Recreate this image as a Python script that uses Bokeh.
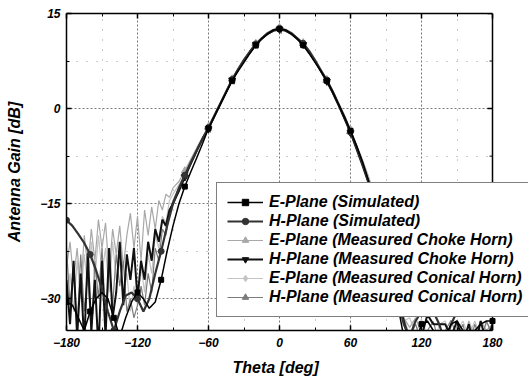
import math
from bokeh.plotting import figure
from bokeh.models import FixedTicker, LinearAxis, Range1d, Legend, LegendItem, Span, Title
from bokeh.embed import file_html
from bokeh.resources import INLINE

# ---------------- data ----------------
theta_sim = [-180, -175, -170, -165, -160, -155, -150, -145, -140, -135, -130, -125,
             -120, -115, -110, -105, -100, -95, -90, -85, -80, -75, -70, -65, -60,
             -55, -50, -45, -40, -35, -30, -25, -20, -15, -10, -5, 0, 5, 10, 15, 20,
             25, 30, 35, 40, 45, 50, 55, 60, 65, 70, 75, 80, 85, 90, 95, 100, 105,
             110, 115, 120, 125, 130, 135, 140, 145, 150, 155, 160, 165, 170, 175, 180]

e_sim = [-30.5, -31, -33, -35, -32, -30, -29, -30, -33, -36, -33, -30.5,
         -29, -30, -31.5, -30.5, -27, -22.5, -18.5, -15, -12.3, -10, -7.8, -5.5, -3.1,
         -1.2, 0.7, 2.6, 4.4, 5.9, 7.3, 8.7, 10.0, 11.0, 11.8, 12.4, 12.6, 12.4, 11.8, 11.0, 10.0,
         8.7, 7.3, 5.9, 4.4, 2.6, 0.6, -1.4, -3.5, -5.8, -8.3, -11.2, -14.5, -18, -22, -26.5, -31, -36,
         -40, -37, -34, -33.5, -35, -38, -36, -34, -33.5, -35, -37, -35, -34, -33.5, -33.5]

h_sim = [-17.6, -18.5, -19.8, -21.2, -23, -25.5, -28.5, -32, -35, -32, -29.5, -29,
         -30, -32, -30, -26, -22.5, -18.5, -15, -12.5, -10.5, -8.5, -6.6, -4.8, -3.0,
         -1.1, 0.8, 2.7, 4.6, 6.2, 7.7, 9.0, 10.2, 11.1, 11.9, 12.4, 12.6, 12.4, 11.9, 11.1, 10.3,
         9.1, 7.6, 6.0, 4.5, 2.7, 0.7, -1.3, -3.6, -6.0, -8.6, -11.4, -14.5, -18, -22, -26, -30, -34,
         -36, -33.5, -32, -31, -32, -34, -37, -34, -32, -30, -29, -28.5, -28, -27.5, -27.5]

theta_meas = [-180, -177, -174, -171, -168, -165, -162, -159, -156, -153, -150, -147,
              -144, -141, -138, -135, -132, -129, -126, -123, -120, -117, -114, -111,
              -108, -105, -102, -99, -96, -93, -90,
              -85, -80, -75, -70, -65, -60, -55, -50, -45, -40, -35, -30, -25, -20, -15,
              -10, -5, 0, 5, 10, 15, 20, 25, 30, 35, 40, 45, 50, 55, 60, 65, 70, 75, 80, 85,
              90, 95, 100, 105, 110, 115, 120, 125, 130, 135, 140, 145, 150, 155, 160, 165,
              170, 175, 180]

e_choke = [-25, -21, -27, -22, -29, -20, -25, -19, -24, -17.5, -22, -18,
           -26, -19, -23, -18.5, -25, -20, -16.5, -22, -17, -24, -16, -20,
           -15.5, -19, -14.5, -16, -13.5, -14, -12.5,
           -11.5, -9.8, -8.0, -6.2, -4.5, -2.8, -1.0, 0.9, 2.8, 4.7, 6.3, 7.8, 9.1, 10.3, 11.2,
           12.0, 12.5, 12.8, 12.5, 12.0, 11.2, 10.4, 9.2, 7.8, 6.2, 4.6, 2.8, 0.8, -1.2, -3.3,
           -5.6, -8.0, -10.6, -13.5, -16.8,
           -20.5, -24.5, -29, -33, -34.5, -33, -35.5, -38, -36, -38, -37, -39, -34, -38,
           -33.5, -36, -33.5, -35, -34]

h_choke = [-27, -34, -24, -36, -26, -37, -23, -35, -27, -38, -24, -36,
           -22, -33, -29, -21, -31, -23, -27, -22, -30, -24, -27, -21,
           -24, -19, -21, -17.5, -18.5, -16, -15,
           -13, -10.8, -8.7, -6.7, -4.7, -3.2, -1.2, 0.7, 2.6, 4.5, 6.1, 7.6, 8.9, 10.1, 11.0,
           11.8, 12.3, 12.5, 12.3, 11.8, 11.0, 10.1, 8.9, 7.5, 5.9, 4.3, 2.5, 0.5, -1.6, -3.8,
           -6.3, -8.9, -11.6, -14.6, -18.2,
           -22, -26, -30, -33.5, -37, -38, -36, -32.5, -34, -34, -34, -36, -33.5, -37,
           -34, -38, -33.5, -37, -34]

e_conical = [-30, -26, -32, -24, -30, -23, -28, -21, -27, -20, -26, -22,
             -29, -21, -27, -24, -30, -26, -32, -28, -31, -25, -29, -23,
             -26, -20, -22, -17, -18, -14.5, -13.5,
             -12, -10.2, -8.3, -6.4, -4.6, -3.0, -1.1, 0.8, 2.7, 4.6, 6.2, 7.7, 9.0, 10.2, 11.2,
             11.9, 12.4, 12.7, 12.4, 11.9, 11.2, 10.3, 9.0, 7.6, 6.1, 4.5, 2.7, 0.7, -1.4, -3.5,
             -5.9, -8.4, -11.0, -14.0, -17.3,
             -21, -25.5, -30, -33.5, -33, -35.5, -33.2, -36, -38, -34, -33.5, -37, -35, -33.5,
             -36, -33.5, -36, -33.8, -35]

h_conical = [-22, -31, -25, -35, -23, -32, -26, -36, -24, -30, -22, -33,
             -25, -31, -23, -28, -24, -32, -30, -33, -31, -28, -31, -26,
             -29, -22, -24, -19, -20, -16.5, -14.5,
             -12.5, -10.5, -8.6, -6.6, -4.8, -3.2, -1.3, 0.6, 2.5, 4.4, 6.0, 7.5, 8.8, 10.0, 11.0,
             11.7, 12.2, 12.4, 12.2, 11.7, 10.9, 10.0, 8.8, 7.4, 5.8, 4.2, 2.4, 0.4, -1.7, -3.9,
             -6.2, -8.8, -11.5, -14.4, -17.8,
             -21.5, -25.5, -29.5, -33, -36, -34, -37, -35, -33.6, -37, -35, -33.4, -36, -34,
             -38, -34, -36.5, -33.5, -36]

x_ticks = [-180, -120, -60, 0, 60, 120, 180]
x_minor = [-150, -90, -30, 30, 90, 150]
y_ticks = [-30, -15, 0, 15]
y_minor = [-22.5, -7.5, 7.5]

labels = ["E-Plane (Simulated)", "H-Plane (Simulated)",
          "E-Plane (Measured Choke Horn)", "H-Plane (Measured Choke Horn)",
          "E-Plane (Measured Conical Horn)", "H-Plane (Measured Conical Horn)"]

FONT = "Liberation Sans"
X0, X1 = x_ticks[0], x_ticks[-1]
# plot box is 426 px for 360 deg; canvas keeps 36 extra px on the right for the legend
X_EXTRA = 36 * (X1 - X0) / 426.0

p = figure(width=530, height=387, output_backend="svg", toolbar_location=None,
           x_range=Range1d(X0, X1 + X_EXTRA), y_range=Range1d(-35, 15),
           min_border_left=66, min_border_right=2, min_border_top=13, min_border_bottom=57)
p.background_fill_color = "white"
p.border_fill_color = "white"
p.outline_line_color = None

xt = FixedTicker(ticks=x_ticks, minor_ticks=x_minor)
yt = FixedTicker(ticks=y_ticks, minor_ticks=y_minor)
p.xaxis.ticker = xt
p.yaxis.ticker = yt
p.xgrid.ticker = xt
p.ygrid.ticker = yt

for g in (p.xgrid, p.ygrid):
    g.grid_line_color = "#777777"
    g.grid_line_dash = "2 2"
    g.grid_line_width = 1
    g.minor_grid_line_color = "#999999"
    g.minor_grid_line_dash = "1 9"
p.ygrid.cross_bounds = (X0, X1)

def style_axis(ax, show_labels=True):
    ax.major_tick_in = 5
    ax.major_tick_out = 0
    ax.minor_tick_in = 3
    ax.minor_tick_out = 0
    ax.axis_line_color = "black"
    ax.axis_line_width = 1.5
    ax.major_tick_line_width = 1.5
    ax.major_label_text_font = FONT
    ax.major_label_text_font_style = "bold italic"
    ax.major_label_text_font_size = "12px"
    ax.major_label_text_color = "black"
    ax.axis_label_text_font = FONT
    ax.axis_label_text_font_style = "bold italic"
    ax.axis_label_text_font_size = "16px"
    ax.axis_label_text_color = "black"
    if not show_labels:
        ax.major_label_text_font_size = "0px"
        ax.major_label_text_alpha = 0

for ax in p.xaxis:
    style_axis(ax)
    ax.major_label_standoff = 7
    ax.bounds = (X0, X1)
for ax in p.yaxis:
    style_axis(ax)
    ax.axis_label = "Antenna Gain [dB]"
    ax.major_label_standoff = 6
    ax.axis_label_standoff = 14

xlabel = Title(text="Theta [deg]", align="left", offset=166, standoff=15,
               text_font=FONT, text_font_style="bold italic", text_font_size="16px",
               text_color="black")
p.add_layout(xlabel, "below")

top = LinearAxis(ticker=xt, bounds=(X0, X1))
style_axis(top, False)
p.add_layout(top, "above")

# right border of the plot box with inward ticks
p.add_layout(Span(location=X1, dimension="height", line_color="black", line_width=1.5))
p.ray(x=[X1] * len(y_ticks), y=y_ticks, length=5, length_units="screen", angle=math.pi,
      line_color="black", line_width=1.5)
p.ray(x=[X1] * len(y_minor), y=y_minor, length=3, length_units="screen", angle=math.pi,
      line_color="black", line_width=1)

def marker_subset(th, vals, lo, hi):
    xs, ys = [], []
    for t, v in zip(th, vals):
        if t % 20 == 0 and lo <= t <= hi:
            xs.append(t)
            ys.append(v)
    return xs, ys

series = [
    # label idx, theta, values, color, width, dash, marker, size, angle, marker range
    (4, theta_meas, e_conical, "#c4c4c4", 1.2, "solid", "diamond", 8, 0, (-80, 80)),
    (2, theta_meas, e_choke, "#a8a8a8", 1.2, "solid", "triangle", 7, 0, (-80, 80)),
    (5, theta_meas, h_conical, "#7c7c7c", 1.2, "solid", "triangle", 7, math.pi / 2, (-80, 80)),
    (3, theta_meas, h_choke, "#111111", 2.0, "solid", "inverted_triangle", 7, 0, (-80, 80)),
    (1, theta_sim, h_sim, "#333333", 2.2, "solid", "circle", 6, 0, (-180, 180)),
    (0, theta_sim, e_sim, "#000000", 1.5, "solid", "square", 5, 0, (-180, 180)),
]

items = {}
for idx, th, vals, col, w, dash, mk, sz, ang, (lo, hi) in series:
    r1 = p.line(th, vals, line_color=col, line_width=w, line_dash=dash)
    mx, my = marker_subset(th, vals, lo, hi)
    r2 = p.scatter(mx, my, marker=mk, size=sz, angle=ang, fill_color=col,
                   line_color=col, line_width=1)
    items[idx] = [r1, r2]

legend = Legend(items=[LegendItem(label=labels[i], renderers=items[i]) for i in range(6)],
                location=(150, 13))
legend.label_text_font = FONT
legend.label_text_font_style = "bold italic"
legend.label_text_font_size = "16px"
legend.label_text_color = "black"
legend.glyph_width = 36
legend.glyph_height = 16
legend.label_height = 16
legend.label_standoff = 6
legend.spacing = 1
legend.padding = 10
legend.margin = 0
legend.border_line_color = "black"
legend.border_line_width = 1
legend.background_fill_color = "white"
legend.background_fill_alpha = 1
p.add_layout(legend, "center")

open("out.html", "w").write(file_html(p, INLINE))
